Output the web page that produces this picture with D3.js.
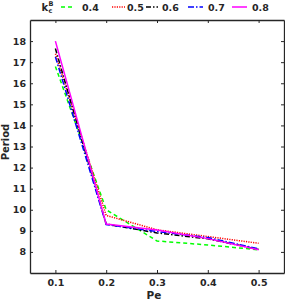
<!DOCTYPE html>
<html><head><meta charset="utf-8">
<script src="https://cdn.jsdelivr.net/npm/d3@7"></script>
<style>body{margin:0;background:#fff}text{font-family:"DejaVu Sans",sans-serif;font-weight:bold}</style>
</head><body><svg id="c" width="285" height="300"></svg>
<script>
const pe = [0.1, 0.2, 0.3, 0.4, 0.5];
const kLabels = ["0.4", "0.5", "0.6", "0.7", "0.8"];
const s04 = [16.8, 10.0, 8.52, 8.33, 8.1];
const s05 = [17.4, 9.73, 9.05, 8.73, 8.41];
const s06 = [17.65, 9.32, 8.9, 8.62, 8.12];
const s07 = [17.25, 9.3, 8.97, 8.68, 8.15];
const s08 = [18.0, 9.32, 9.04, 8.63, 8.1];
const xTicks = [0.1, 0.2, 0.3, 0.4, 0.5];
const yTicks = [8, 9, 10, 11, 12, 13, 14, 15, 16, 17, 18];

const series = [
  {k: kLabels[0], v: s04, color: "#00ff00", dash: "4,3"},
  {k: kLabels[1], v: s05, color: "#ff0000", dash: "1.2,1.2"},
  {k: kLabels[2], v: s06, color: "#000000", dash: "5,2,1.5,2"},
  {k: kLabels[3], v: s07, color: "#0000ff", dash: "6,2,1.5,2"},
  {k: kLabels[4], v: s08, color: "#ff00ff", dash: null}
];

const svg = d3.select("#c");
const L = 30, R = 284, T = 20, B = 273;
const x = d3.scaleLinear().domain([0.05, 0.55]).range([L, R]);
const y = d3.scaleLinear().domain([7, 19]).range([B, T]);

// axes
const ax = svg.append("g");
ax.append("g").attr("transform", `translate(0,${B})`)
  .call(d3.axisBottom(x).tickValues(xTicks).tickSizeInner(-3).tickSizeOuter(0).tickPadding(6).tickFormat(d3.format(".1f")));
ax.append("g").attr("transform", `translate(0,${T})`)
  .call(d3.axisTop(x).tickValues(xTicks).tickSizeInner(-3).tickSizeOuter(0).tickFormat(""));
ax.append("g").attr("transform", `translate(${L},0)`)
  .call(d3.axisLeft(y).tickValues(yTicks).tickSizeInner(-3).tickSizeOuter(0).tickPadding(4));
ax.append("g").attr("transform", `translate(${R},0)`)
  .call(d3.axisRight(y).tickValues(yTicks).tickSizeInner(-3).tickSizeOuter(0).tickFormat(""));
ax.selectAll(".domain").attr("stroke", "#262626").attr("stroke-width", 1.3);
ax.selectAll(".tick line").attr("stroke", "#262626").attr("stroke-width", 1);
ax.selectAll(".tick text").attr("font-size", 9.5).attr("fill", "#262626").attr("font-weight", "bold").attr("font-family", "DejaVu Sans");

// lines
const line = d3.line().x((d, i) => x(pe[i])).y(d => y(d));
series.forEach(s => {
  svg.append("path").datum(s.v).attr("d", line).attr("fill", "none")
    .attr("stroke", s.color).attr("stroke-width", 1.5)
    .attr("stroke-dasharray", s.dash);
});

// axis titles
svg.append("text").attr("x", 154).attr("y", 299).attr("text-anchor", "middle")
  .attr("font-size", 10.5).attr("fill", "#262626").text("Pe");
svg.append("text").attr("transform", `translate(9,142) rotate(-90)`).attr("text-anchor", "middle")
  .attr("font-size", 10).attr("fill", "#262626").text("Period");

// legend
const lg = svg.append("g");
lg.append("text").attr("x", 41.5).attr("y", 10.5).attr("font-size", 10).attr("fill", "#262626").text("k");
lg.append("text").attr("x", 48.5).attr("y", 5.5).attr("font-size", 6.5).attr("fill", "#262626").text("B");
lg.append("text").attr("x", 48.5).attr("y", 13).attr("font-size", 6.5).attr("fill", "#262626").text("c");
const lx1 = [61, 112, 146, 188, 232];
const lx2 = [73, 125, 158, 203, 247];
const tx = [82, 127, 162, 208, 252];
series.forEach((s, i) => {
  lg.append("line").attr("x1", lx1[i]).attr("x2", lx2[i]).attr("y1", 7).attr("y2", 7)
    .attr("stroke", s.color).attr("stroke-width", 1.5).attr("stroke-dasharray", s.dash);
  lg.append("text").attr("x", tx[i]).attr("y", 10.5).attr("font-size", 9.5).attr("fill", "#262626").text(s.k);
});
</script></body></html>
